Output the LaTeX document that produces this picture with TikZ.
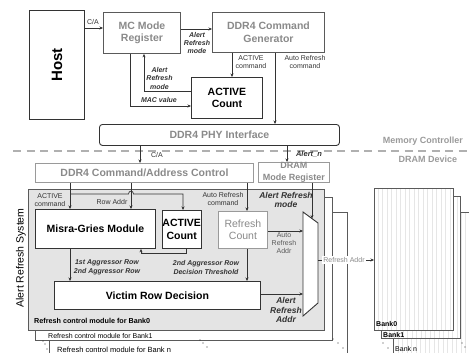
\documentclass[tikz,border=0pt]{standalone}
\usepackage{fontspec}
\setmainfont{Liberation Sans}
\usetikzlibrary{arrows.meta,calc}
\definecolor{tgray}{HTML}{8A8A8A}
\definecolor{bgray}{HTML}{5A5A5A}
\definecolor{lgray}{HTML}{9A9A9A}
\definecolor{pfill}{HTML}{E4E4E4}
\definecolor{lcol}{HTML}{333333}
\definecolor{gridc}{HTML}{E6E6E6}
\definecolor{dashc}{HTML}{B0B0B0}
\tikzset{
  bx/.style={draw=lcol, line width=0.9pt, fill=white, align=center, inner sep=0pt, anchor=north west, font=\bfseries\fontsize{10.5}{12.5}\selectfont},
  gbx/.style={bx, draw=bgray, text=tgray},
  lb/.style={font=\fontsize{7}{8}\selectfont, align=center, inner sep=0.5pt, text=lcol},
  il/.style={font=\bfseries\itshape\fontsize{7}{8.5}\selectfont, align=center, inner sep=0.5pt, text=lcol},
  ilb/.style={font=\bfseries\itshape\fontsize{8.5}{9.8}\selectfont, align=center, inner sep=0.5pt, text=lcol},
  ar/.style={draw=lcol, line width=0.7pt, -{Stealth[length=3.5pt,width=3pt]}},
  ln/.style={draw=lcol, line width=0.7pt},
  panel/.style={draw=bgray, line width=0.9pt, fill=white, anchor=north west, inner sep=0pt},
  bank/.style={draw=bgray, line width=0.9pt, fill=white, anchor=north west, inner sep=0pt,
    path picture={\draw[gridc, line width=0.3pt, step=4.5] (path picture bounding box.south west) grid (path picture bounding box.north east);}},
  dotm/.style={fill=lcol},
}
\begin{document}
\begin{tikzpicture}[x=1pt,y=-1pt]
\useasboundingbox (0,0) rectangle (469,353);

% ---------- memory controller ----------
\node[bx, minimum width=55, minimum height=109] (host) at (29,10) {};
\node[rotate=90, font=\bfseries\fontsize{15}{18}\selectfont] (hostt) at (host.center) {Host};
\node[gbx, minimum width=77, minimum height=41] (mc) at (103,12) {MC Mode\\Register};
\node[gbx, minimum width=112, minimum height=40] (gen) at (212,12) {DDR4 Command\\Generator};
\node[bx, minimum width=71, minimum height=41] (actT) at (191,77) {ACTIVE\\Count};
\node[bx, rounded corners=3pt, minimum width=240, minimum height=21, text=tgray] (phy) at (99,124) {DDR4 PHY Interface};

\draw[ar] (host.east |- 0,28) -- (mc.west |- 0,28);
\node[lb] (lca1) at (93,22) {C/A};
\draw[ar] (mc.east |- 0,29) -- (gen.west |- 0,29);
\node[il] (lar1) at (197,43) {Alert\\Refresh\\mode};
\draw[ar] (gen.south -| 232,0) -- (actT.north -| 232,0);
\node[lb] (lac1) at (251,62) {ACTIVE\\command};
\draw[ar] (gen.south -| 275,0) -- (phy.north -| 275,0);
\node[lb] (lau1) at (305,62) {Auto Refresh\\command};
\draw[ar] (actT.west |- 0,91) -| (mc.south -| 144,0);
\node[il] (lar2) at (159.5,78) {Alert\\Refresh\\mode};
\draw[ar] (mc.south -| 130,0) |- (actT.west |- 0,106);
\node[il] (lmac) at (159,99.5) {MAC value};

% separator
\draw[dashc, line width=1.5pt, dash pattern=on 8pt off 5.5pt] (13,151) -- (469,151);
\node[font=\bfseries\fontsize{9}{10}\selectfont, text=lgray] (memc) at (423,141) {Memory Controller};
\node[font=\bfseries\fontsize{9}{10}\selectfont, text=lgray] (dramd) at (428,159) {DRAM Device};

% ---------- DRAM ----------
\node[gbx, draw=lgray, minimum width=218, minimum height=19] (cac) at (35,163) {DDR4 Command/Address Control};
\node[gbx, draw=lgray, minimum width=71, minimum height=20, font=\bfseries\fontsize{9}{11.5}\selectfont] (dmr) at (258,162) {DRAM\\Mode Register};
\draw[ar] (phy.south -| 140,0) -- (cac.north -| 140,0);
\node[lb] (lca2) at (157,155) {C/A};
\draw[ar] (phy.south -| 287,0) -- (dmr.north -| 287,0);
\node[font=\bfseries\itshape\fontsize{7.5}{9}\selectfont, text=lcol] (lan) at (309,154) {Alert\_n};

% panels
\node[panel, minimum width=298, minimum height=160] (pn) at (49,212) {};
\node[panel, minimum width=297, minimum height=143] (p1) at (35,197) {};
\node[panel, fill=pfill, minimum width=296, minimum height=141] (p0) at (28,189) {};
\node[rotate=90, font=\fontsize{10.5}{12}\selectfont] (ars) at (21,258) {Alert Refresh System};

\node[anchor=west, inner sep=0pt, font=\bfseries\fontsize{7.2}{8}\selectfont] (t0) at (34,321) {Refresh control module for Bank0};
\node[anchor=west, inner sep=0pt, font=\fontsize{7}{8}\selectfont] (t1) at (48,336) {Refresh control module for Bank1};
\node[anchor=west, inner sep=0pt, font=\fontsize{7.5}{8}\selectfont] (tn) at (57,350) {Refresh control module for Bank n};

\node[bx, minimum width=120, minimum height=39] (mg) at (35,209) {Misra-Gries Module};
\node[bx, minimum width=38, minimum height=38] (actI) at (162,210) {ACTIVE\\Count};
\node[bx, draw=lgray, text=tgray, minimum width=49, minimum height=37, font=\fontsize{10.5}{12.5}\selectfont] (rc) at (218,211) {Refresh\\Count};
\node[bx, minimum width=206, minimum height=28] (vrd) at (54,281) {Victim Row Decision};

% mux
\coordinate (mxa) at (303,212);
\coordinate (mxb) at (318,223);
\coordinate (mxc) at (318,303);
\coordinate (mxd) at (303,316);
\draw[draw=lcol, line width=0.9pt, fill=white] (mxa) -- (mxb) -- (mxc) -- (mxd) -- cycle;
\coordinate (mxtop) at (312,218.6);
\coordinate (mxl1) at (303,231);
\coordinate (mxl2) at (303,294);
\coordinate (mxr) at (318,260);

% internal connectors
\coordinate (j1) at (70,194);
\draw[ar] (cac.south -| 70,0) -- (mg.north -| 70,0);
\node[lb] (lac2) at (50,200) {ACTIVE\\command};
\draw[ar] (cac.south -| 131,0) -- (mg.north -| 131,0);
\node[lb] (lra) at (112,202) {Row Addr};
\draw[ar] (j1) -- (128.5,194) .. controls (128.5,190.2) and (133.5,190.2) .. (133.5,194) -- (183,194) -- (actI.north -| 183,0);
\draw[ar] (cac.south -| 247,0) -- (rc.north -| 247,0);
\node[lb] (lau2) at (223,199) {Auto Refresh\\command};
\coordinate (j2) at (141,253);
\draw[ar] (actI.south -| 186,0) |- (j2) -- (mg.south -| 141,0);
\draw[ar] (mg.south -| 70,0) -- (vrd.north -| 70,0);
\node[il] (lagg1) at (107,267.5) {1st Aggressor Row\\2nd Aggressor Row};
\draw[ar] (rc.south -| 247,0) -- (vrd.north -| 247,0);
\node[il] (lagg2) at (206,267.5) {2nd Aggressor Row\\Decision Threshold};
\draw[ar] (dmr.south -| 312,0) -- (mxtop);
\node[ilb] (larm) at (286,200) {Alert Refresh\\mode};
\draw[ar] (rc.east |- mxl1) -- (mxl1);
\node[lb, text=bgray] (laura) at (284,243) {Auto\\Refresh\\Addr};
\draw[ar] (vrd.east |- mxl2) -- (mxl2);
\node[ilb] (lara) at (286,310) {Alert\\Refresh\\Addr};

% banks
\node[bank, minimum width=90, minimum height=150] (bn) at (393,212) {};
\node[bank, minimum width=79, minimum height=142] (b1) at (381,196) {};
\node[bank, minimum width=79, minimum height=142] (b0) at (374,188) {};
\node[anchor=west, inner sep=0pt, font=\bfseries\fontsize{7}{8}\selectfont] (bl0) at (376,324) {Bank0};
\node[anchor=west, inner sep=0pt, font=\bfseries\fontsize{7}{8}\selectfont] (bl1) at (383,335) {Bank1};
\node[anchor=west, inner sep=0pt, font=\fontsize{7}{8}\selectfont] (bln) at (395,349) {Bank n};

\draw[ar] (mxr) -- (b0.west |- mxr);
\node[lb, text=tgray, fill=white, inner sep=1pt] (lra2) at (344,260) {Refresh Addr};

% ellipsis dots
\foreach \p in {(43,341),(45,344),(47,349),(200,340),(203,343),(207,347),(333,339),(338,343),(343,348),(383,343),(388,348),(462,343),(465,347)}
  \fill[dotm] \p circle (0.6);
\end{tikzpicture}
\end{document}
